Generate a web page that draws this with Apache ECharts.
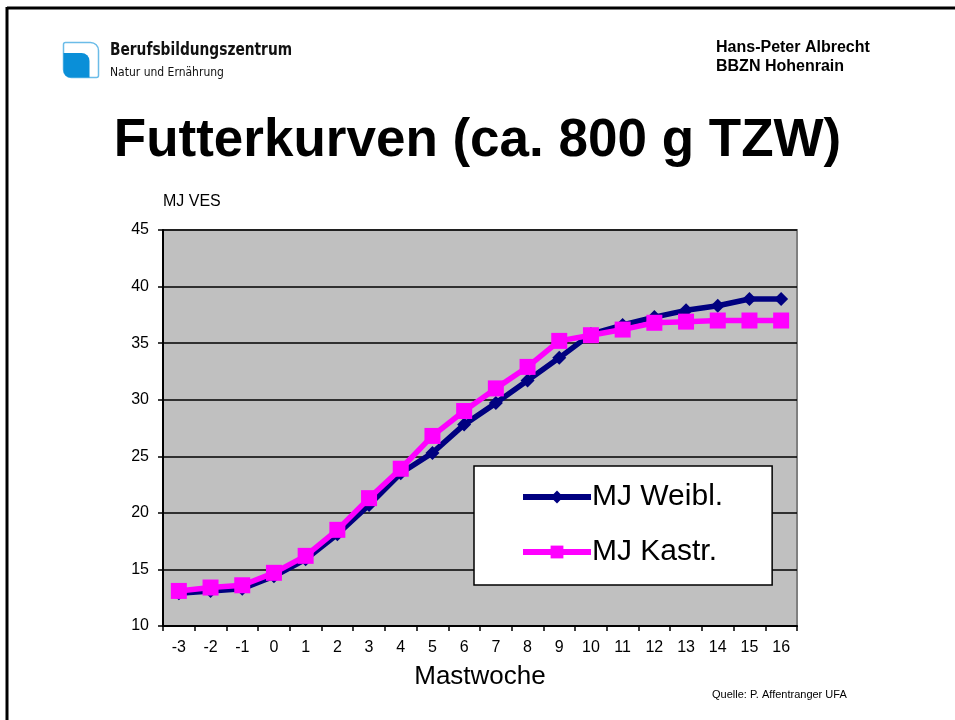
<!DOCTYPE html>
<html><head><meta charset="utf-8">
<script src="https://cdn.jsdelivr.net/npm/echarts@6/dist/echarts.min.js"></script>
<style>html,body{margin:0;padding:0;background:#fff}#c{width:955px;height:720px}</style>
</head><body><div id="c"></div>
<script>
const weeks = ['-3','-2','-1','0','1','2','3','4','5','6','7','8','9','10','11','12','13','14','15','16'];
const mjWeibl = [12.9,13.1,13.3,14.4,15.9,18.1,20.7,23.5,25.3,27.8,29.7,31.7,33.7,35.8,36.6,37.3,37.9,38.3,38.9,38.9];
const mjKastr = [13.1,13.4,13.6,14.7,16.2,18.5,21.3,23.9,26.8,29.0,31.0,32.9,35.2,35.7,36.2,36.8,36.9,37.0,37.0,37.0];
const yTicks = {min:10, max:45, interval:5};

const chart = echarts.init(document.getElementById('c'), null, {renderer:'canvas'});
const F = 'Arial, "Liberation Sans", sans-serif';
chart.setOption({
  backgroundColor:'#fff',
  animation:false,
  title:{text:'Futterkurven (ca. 800 g TZW)', left:'center', top:110,
    textStyle:{fontFamily:F, fontSize:53, fontWeight:'bold', color:'#000'}},
  graphic:[
    {type:'line', shape:{x1:7, y1:8, x2:955, y2:8}, style:{stroke:'#000', lineWidth:3}},
    {type:'line', shape:{x1:7, y1:7, x2:7, y2:720}, style:{stroke:'#000', lineWidth:3}},
    {type:'rect', shape:{x:63.5, y:42.5, width:35, height:35, r:[2,8,2,8]}, style:{fill:'#fff', stroke:'#6BBCE8', lineWidth:1.5}},
    {type:'rect', shape:{x:63.5, y:53, width:26, height:24.5, r:[0,8,0,7]}, style:{fill:'#0A8FD8'}},
    {type:'text', x:110, y:51, scaleX:0.9, style:{text:'Berufsbildungszentrum', font:'bold 17px "DejaVu Sans Condensed", sans-serif', fill:'#111', verticalAlign:'middle'}},
    {type:'text', x:110, y:73, style:{text:'Natur und Ernährung', font:'12px "DejaVu Sans Condensed", sans-serif', fill:'#111', verticalAlign:'middle'}},
    {type:'text', x:716, y:48, style:{text:'Hans-Peter Albrecht', font:'bold 16px Arial, "Liberation Sans", sans-serif', fill:'#000', verticalAlign:'middle'}},
    {type:'text', x:716, y:67, style:{text:'BBZN Hohenrain', font:'bold 16px Arial, "Liberation Sans", sans-serif', fill:'#000', verticalAlign:'middle'}},
    {type:'text', x:712, y:695, style:{text:'Quelle: P. Affentranger UFA', font:'11px Arial, "Liberation Sans", sans-serif', fill:'#000', verticalAlign:'middle'}}
  ],
  grid:{left:163, right:158, top:230, bottom:94, show:true, backgroundColor:'#C0C0C0', borderColor:'#808080', borderWidth:2},
  legend:{
    orient:'vertical', left:474, top:466,
    padding:[16,49,18,46], itemGap:25,
    itemWidth:68, itemHeight:16,
    backgroundColor:'#fff', borderColor:'#000', borderWidth:1.5,
    lineStyle:{width:6},
    textStyle:{fontFamily:F, fontSize:30, color:'#000', padding:[0,0,0,-4]},
    data:['MJ Weibl.','MJ Kastr.']
  },
  xAxis:{
    type:'category', data:weeks, boundaryGap:true,
    name:'Mastwoche', nameLocation:'middle', nameGap:38,
    nameTextStyle:{fontFamily:F, fontSize:26, color:'#000'},
    axisLine:{lineStyle:{color:'#000', width:2}},
    axisTick:{show:true, length:5, lineStyle:{color:'#000', width:1.5}},
    axisLabel:{fontFamily:F, fontSize:16, color:'#000', margin:14}
  },
  yAxis:{
    type:'value', min:yTicks.min, max:yTicks.max, interval:yTicks.interval,
    name:'MJ VES', nameLocation:'end', nameGap:20,
    nameTextStyle:{fontFamily:F, fontSize:16, color:'#000', align:'left'},
    axisLine:{show:true, lineStyle:{color:'#000', width:2}},
    axisTick:{show:true, length:5, lineStyle:{color:'#000', width:1.5}},
    axisLabel:{fontFamily:F, fontSize:16, color:'#000', margin:14},
    splitLine:{show:true, lineStyle:{color:'#000', width:1.5}}
  },
  series:[
    {name:'MJ Weibl.', type:'line', data:mjWeibl, symbol:'diamond', symbolSize:14,
      lineStyle:{color:'#000080', width:5.5}, itemStyle:{color:'#000080'}, z:2},
    {name:'MJ Kastr.', type:'line', data:mjKastr, symbol:'rect', symbolSize:16,
      lineStyle:{color:'#FF00FF', width:5.5}, itemStyle:{color:'#FF00FF'}, z:3}
  ]
});
</script></body></html>
